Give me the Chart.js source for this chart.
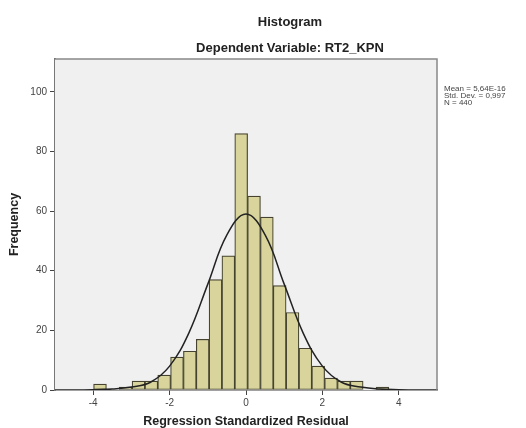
<!DOCTYPE html>
<html>
<head>
<meta charset="utf-8">
<script src="https://cdn.jsdelivr.net/npm/chart.js@4/dist/chart.umd.min.js"></script>
<style>
  body { margin: 0; background: #fff; }
  #wrap { width: 526px; height: 428px; }
</style>
</head>
<body>
<div id="wrap"><canvas id="hist" width="526" height="428"></canvas></div>
<script>
// bin centres (width ~0.336) and counts
const binCenters = [-3.822, -3.486, -3.150, -2.814, -2.478, -2.142, -1.806, -1.470, -1.134, -0.798, -0.462, -0.126,
  0.210, 0.546, 0.882, 1.218, 1.554, 1.890, 2.226, 2.562, 2.898, 3.234, 3.570];
const binCounts = [2, null, 1, 3, 3, 5, 11, 13, 17, 37, 45, 86, 65, 58, 35, 26, 14, 8, 4, 3, 3, null, 1];

// normal curve heights
const curveX = [-5, -4.5, -4, -3.5, -3, -2.5, -2, -1.5, -1, -0.5, 0, 0.5, 1, 1.5, 2, 2.5, 3, 3.5, 4, 4.5, 5];
const curveY = [0, 0, 0.1, 0.3, 1, 2.6, 8, 19, 35.5, 52, 59, 52, 35.5, 19, 8, 2.6, 1, 0.3, 0.1, 0, 0];

const xTicks = [-4, -2, 0, 2, 4];
const yTicks = [0, 20, 40, 60, 80, 100];

const titleText = 'Histogram';
const subtitleText = 'Dependent Variable: RT2_KPN';
const statsLines = ['Mean = 5,64E-16', 'Std. Dev. = 0,997', 'N = 440'];

const font = '"Liberation Sans", Arial, sans-serif';

// plot background, frame and text outside the axes
const decor = {
  id: 'decor',
  beforeDatasetsDraw(chart) {
    const { ctx, chartArea: a } = chart;
    ctx.save();
    ctx.fillStyle = '#f0f0f0';
    ctx.fillRect(a.left, a.top, a.right - a.left, a.bottom - a.top);
    ctx.restore();
  },
  afterDraw(chart) {
    const { ctx, chartArea: a } = chart;
    ctx.save();
    ctx.strokeStyle = '#888';
    ctx.lineWidth = 1.5;
    ctx.beginPath();
    ctx.moveTo(a.left, a.top);
    ctx.lineTo(a.right, a.top);
    ctx.lineTo(a.right, a.bottom);
    ctx.stroke();

    ctx.fillStyle = '#222';
    ctx.textAlign = 'center';
    ctx.textBaseline = 'middle';
    ctx.font = 'bold 13px ' + font;
    ctx.fillText(titleText, 290, 22);
    ctx.fillText(subtitleText, 290, 48);

    ctx.fillStyle = '#444';
    ctx.textAlign = 'left';
    ctx.font = '8px ' + font;
    statsLines.forEach((s, i) => ctx.fillText(s, 444, 89 + i * 7));
    ctx.restore();
  }
};

const ctx = document.getElementById('hist').getContext('2d');
new Chart(ctx, {
  type: 'bar',
  data: {
    datasets: [{
      type: 'line',
      data: curveX.map((x, i) => ({ x: x, y: curveY[i] })),
      borderColor: '#222',
      borderWidth: 1.5,
      pointRadius: 0,
      tension: 0.4,
      fill: false,
      order: 0
    }, {
      type: 'bar',
      data: binCenters.map((x, i) => ({ x: x, y: binCounts[i] })),
      backgroundColor: '#d8d49c',
      borderColor: '#45432f',
      borderWidth: 1.2,
      borderSkipped: false,
      barPercentage: 1,
      categoryPercentage: 1,
      order: 1
    }]
  },
  options: {
    responsive: false,
    animation: false,
    layout: { padding: { top: 59, right: 89, left: 0, bottom: 0 } },
    plugins: { legend: { display: false }, tooltip: { enabled: false } },
    scales: {
      x: {
        type: 'linear',
        min: -5,
        max: 5,
        offset: false,
        afterFit: s => { s.height = 38; },
        afterBuildTicks: s => { s.ticks = xTicks.map(v => ({ value: v })); },
        grid: { offset: false, drawOnChartArea: false, drawTicks: true, tickLength: 5, color: '#444' },
        border: { display: true, color: '#444', width: 1.5 },
        ticks: { color: '#444', font: { family: font, size: 10 }, padding: 2, maxRotation: 0 },
        title: {
          display: true,
          text: 'Regression Standardized Residual',
          color: '#222',
          font: { family: font, size: 12.5, weight: 'bold', lineHeight: 1 },
          padding: { top: 0, bottom: 0 }
        }
      },
      y: {
        min: 0,
        max: 111,
        afterFit: s => { s.width = 55; },
        afterBuildTicks: s => { s.ticks = yTicks.map(v => ({ value: v })); },
        grid: { drawOnChartArea: false, drawTicks: true, tickLength: 5, color: '#444' },
        border: { display: true, color: '#777', width: 2 },
        ticks: { color: '#444', font: { family: font, size: 10 }, padding: 3 },
        title: {
          display: true,
          text: 'Frequency',
          color: '#222',
          font: { family: font, size: 12.5, weight: 'bold', lineHeight: 1 },
          padding: { top: 8.5, bottom: 0 }
        }
      }
    }
  },
  plugins: [decor]
});
</script>
</body>
</html>
